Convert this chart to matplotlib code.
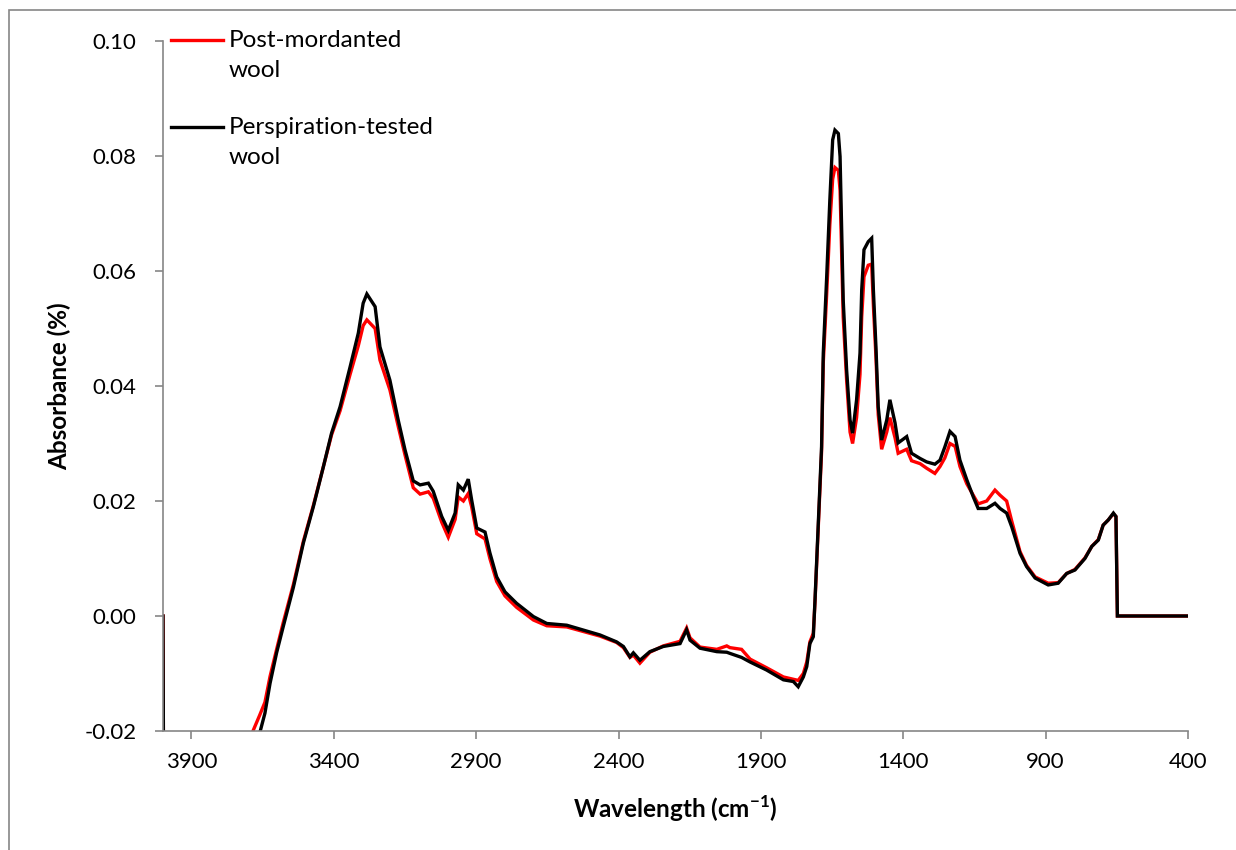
import matplotlib.pyplot as plt
from matplotlib.lines import Line2D
from matplotlib.patches import Rectangle

plt.rcParams['font.family'] = ['Lato', 'DejaVu Sans']
plt.rcParams['mathtext.fontset'] = 'custom'
plt.rcParams['mathtext.rm'] = 'Lato'
plt.rcParams['mathtext.bf'] = 'Lato:bold'

# FTIR spectra, wavenumber in cm-1
wavenumber = [4000, 3996, 3950, 3880, 3800, 3740, 3700, 3684, 3660, 3642,
              3624, 3601, 3578, 3542, 3507, 3472, 3437, 3408, 3378, 3343,
              3314, 3297, 3284, 3255, 3238, 3203, 3174, 3150, 3121, 3097,
              3068, 3051, 3021, 2998, 2974, 2963, 2945, 2928, 2916, 2898,
              2869, 2852, 2828, 2799, 2758, 2699, 2652, 2582, 2465, 2407,
              2383, 2360, 2348, 2325, 2290, 2243, 2184, 2161, 2149, 2114,
              2055, 2020, 2009, 1968, 1938, 1880, 1821, 1786, 1769, 1751,
              1739, 1728, 1716, 1710, 1698, 1687, 1681, 1669, 1658, 1648,
              1640, 1628, 1622, 1617, 1611, 1599, 1587, 1578, 1564, 1552,
              1546, 1538, 1523, 1511, 1505, 1496, 1488, 1476, 1458, 1447,
              1429, 1418, 1388, 1371, 1341, 1318, 1289, 1271, 1254, 1236,
              1218, 1201, 1177, 1154, 1137, 1107, 1078, 1060, 1037, 1019,
              990, 967, 937, 891, 856, 826, 797, 762, 738, 715,
              698, 680, 662, 653, 648, 400]

post_mordanted = [0.0, -0.060, -0.045, -0.037, -0.030, -0.025, -0.0218, -0.0200, -0.0172, -0.0150,
                  -0.0105, -0.0058, -0.0012, 0.0055, 0.0130, 0.0192, 0.0259, 0.0315, 0.0357, 0.0420,
                  0.0470, 0.0505, 0.0515, 0.0500, 0.0445, 0.0393, 0.0330, 0.0280, 0.0223, 0.0212,
                  0.0216, 0.0205, 0.0163, 0.0137, 0.0168, 0.0207, 0.0200, 0.0213, 0.0190, 0.0143,
                  0.0134, 0.0100, 0.0060, 0.0035, 0.0015, -0.0007, -0.0017, -0.0019, -0.0035, -0.0046,
                  -0.0055, -0.0072, -0.0068, -0.0082, -0.0063, -0.0052, -0.0044, -0.0021, -0.0038, -0.0054,
                  -0.0058, -0.0052, -0.0055, -0.0058, -0.0075, -0.0090, -0.0106, -0.0110, -0.0112, -0.0100,
                  -0.0080, -0.0045, -0.0030, 0.0025, 0.0160, 0.0285, 0.0440, 0.0560, 0.0680, 0.0760,
                  0.0780, 0.0775, 0.0740, 0.0640, 0.0520, 0.0410, 0.0320, 0.0300, 0.0345, 0.0420,
                  0.0520, 0.0590, 0.0610, 0.0612, 0.0540, 0.0450, 0.0350, 0.0290, 0.0320, 0.0345,
                  0.0310, 0.0283, 0.0290, 0.0270, 0.0265, 0.0257, 0.0248, 0.0260, 0.0275, 0.0300,
                  0.0295, 0.0260, 0.0230, 0.0210, 0.0195, 0.0200, 0.0219, 0.0210, 0.0200, 0.0165,
                  0.0112, 0.0088, 0.0068, 0.0057, 0.0058, 0.0074, 0.0081, 0.0101, 0.0121, 0.0133,
                  0.0158, 0.0167, 0.0178, 0.0173, 0.0, 0.0]

perspiration_tested = [0.0, -0.060, -0.046, -0.038, -0.031, -0.026, -0.0235, -0.0222, -0.0203, -0.0169,
                       -0.0117, -0.0064, -0.0019, 0.0050, 0.0127, 0.0190, 0.0259, 0.0318, 0.0364, 0.0433,
                       0.0492, 0.0544, 0.0560, 0.0538, 0.0468, 0.0410, 0.0341, 0.0289, 0.0235, 0.0228,
                       0.0231, 0.0217, 0.0173, 0.0149, 0.0179, 0.0228, 0.0219, 0.0238, 0.0202, 0.0153,
                       0.0146, 0.0110, 0.0068, 0.0042, 0.0022, -0.0001, -0.0013, -0.0016, -0.0033, -0.0045,
                       -0.0053, -0.0071, -0.0064, -0.0077, -0.0062, -0.0053, -0.0048, -0.0024, -0.0042, -0.0056,
                       -0.0062, -0.0063, -0.0065, -0.0072, -0.0080, -0.0094, -0.0111, -0.0114, -0.0123, -0.0106,
                       -0.0088, -0.0048, -0.0036, 0.0028, 0.0167, 0.0294, 0.0457, 0.0590, 0.0723, 0.0828,
                       0.0845, 0.0839, 0.0799, 0.0689, 0.0550, 0.0428, 0.0341, 0.0318, 0.0376, 0.0457,
                       0.0567, 0.0637, 0.0651, 0.0657, 0.0567, 0.0468, 0.0364, 0.0306, 0.0341, 0.0376,
                       0.0336, 0.0301, 0.0312, 0.0283, 0.0274, 0.0268, 0.0264, 0.0271, 0.0294, 0.0321,
                       0.0312, 0.0271, 0.0237, 0.0207, 0.0187, 0.0187, 0.0196, 0.0187, 0.0179, 0.0155,
                       0.0109, 0.0086, 0.0066, 0.0054, 0.0057, 0.0074, 0.0080, 0.0100, 0.0121, 0.0132,
                       0.0158, 0.0167, 0.0179, 0.0173, 0.0, 0.0]

x_ticks = [3900, 3400, 2900, 2400, 1900, 1400, 900, 400]
y_ticks = [-0.02, 0.00, 0.02, 0.04, 0.06, 0.08, 0.10]

fig = plt.figure(figsize=(12.36, 8.5), dpi=100)
ax = fig.add_axes([163 / 1236, 1 - 731 / 850, 1025 / 1236, 690 / 850])

ax.plot(wavenumber, post_mordanted, color='#ff0000', lw=2.4, solid_joinstyle='miter')
ax.plot(wavenumber, perspiration_tested, color='#000000', lw=2.4, solid_joinstyle='miter')

ax.set_xlim(4000, 400)
ax.set_ylim(-0.02, 0.10)
ax.set_xticks(x_ticks)
ax.set_yticks(y_ticks)
ax.set_yticklabels([f'{v:.2f}' for v in y_ticks])

for side in ['top', 'right']:
    ax.spines[side].set_visible(False)
for side in ['left', 'bottom']:
    ax.spines[side].set_color('#868686')
    ax.spines[side].set_linewidth(1.2)
ax.tick_params(axis='both', direction='out', length=6, width=1.2, color='#868686',
               labelsize=16, labelcolor='black')
ax.tick_params(axis='y', pad=13)
ax.tick_params(axis='x', pad=9)

ax.set_ylabel('Absorbance (%)', fontsize=17.5, fontweight='bold')
ax.set_xlabel(r'Wavelength (cm$^{\mathbf{-1}}$)', fontsize=17.5, fontweight='bold')
ax.yaxis.set_label_coords(-0.090, 0.5)
ax.xaxis.set_label_coords(0.5, -0.090)

# legend drawn by hand so the key sits on the first line of each label
for y_px, color, label in [(40, '#ff0000', 'Post-mordanted\nwool'),
                           (127, '#000000', 'Perspiration-tested\nwool')]:
    yf = 1 - y_px / 850
    fig.add_artist(Line2D([171 / 1236, 223 / 1236], [yf, yf], color=color, lw=2.4))
    fig.text(229 / 1236, yf + 10 / 850, label, fontsize=17.5, va='top', ha='left',
             linespacing=1.5)

# chart frame
fig.add_artist(Rectangle((9 / 1236, -0.2), 1.5, 1.2 - 10 / 850,
                         transform=fig.transFigure, fill=False,
                         edgecolor='#868686', lw=1.2))

fig.savefig('out.png', dpi=100)
